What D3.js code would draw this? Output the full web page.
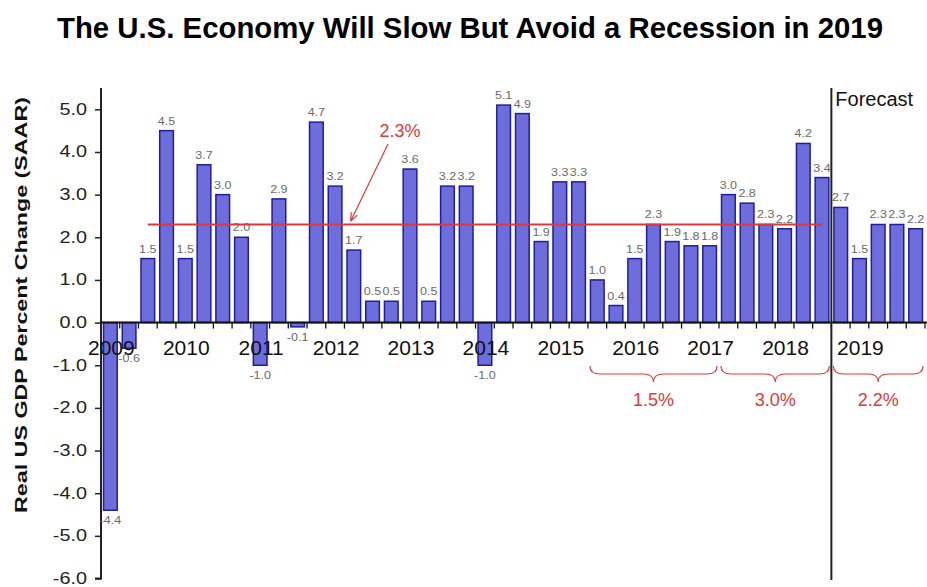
<!DOCTYPE html>
<html>
<head>
<meta charset="utf-8">
<script src="https://cdn.jsdelivr.net/npm/d3@7/dist/d3.min.js"></script>
<style>
  html, body { margin: 0; padding: 0; background: #fff; }
  svg { display: block; font-family: Arial, "Liberation Sans", sans-serif; }
</style>
</head>
<body>
<svg id="chart" width="927" height="587"></svg>
<script>
// Quarterly real GDP growth, SAAR (%), 2009 Q1 through 2019 Q4
const years = ["2009","2010","2011","2012","2013","2014","2015","2016","2017","2018","2019"];
const quarters = ["Q1","Q2","Q3","Q4"];
const gdpGrowth = [
  -4.4, -0.6, 1.5, 4.5,
   1.5,  3.7, 3.0, 2.0,
  -1.0,  2.9, -0.1, 4.7,
   3.2,  1.7, 0.5, 0.5,
   3.6,  0.5, 3.2, 3.2,
  -1.0,  5.1, 4.9, 1.9,
   3.3,  3.3, 1.0, 0.4,
   1.5,  2.3, 1.9, 1.8,
   1.8,  3.0, 2.8, 2.3,
   2.2,  4.2, 3.4, 2.7,
   1.5,  2.3, 2.3, 2.2
];
const yTicks = [-6, -5, -4, -3, -2, -1, 0, 1, 2, 3, 4, 5];
const averageValue = 2.3;
const averageSpan = [2, 38];          // quarters covered by the average line
const forecastStart = 39;             // first forecast quarter index
const periodAverages = [
  { from: 26, to: 33, label: "1.5%" },
  { from: 33, to: 39, label: "3.0%" },
  { from: 39, to: 44, label: "2.2%" }
];

const labels = [];
years.forEach(y => quarters.forEach(q => labels.push(y + " " + q)));
const data = gdpGrowth.map((v, i) => ({ key: labels[i], value: v, i }));
const fmt = v => v.toFixed(1);

// widen text glyphs horizontally by a factor
function widen(sel, factor) {
  sel.each(function () {
    const len = this.getComputedTextLength();
    d3.select(this).attr("textLength", len * factor).attr("lengthAdjust", "spacingAndGlyphs");
  });
}

const svg = d3.select("#chart");
const left = 101, right = 925;

const x = d3.scaleBand().domain(labels).range([left, right]).paddingInner(0.27).paddingOuter(0.135);
const step = x.step();
const edge = i => left + i * step;   // boundary before quarter i
const y = d3.scaleLinear().domain([-6, 5.5]).range([578.5, 88]);

// Title
svg.append("text")
  .attr("x", 470).attr("y", 38)
  .attr("text-anchor", "middle")
  .attr("font-size", 29).attr("font-weight", "bold")
  .attr("textLength", 826).attr("lengthAdjust", "spacingAndGlyphs")
  .attr("fill", "#000")
  .text("The U.S. Economy Will Slow But Avoid a Recession in 2019");

// Y axis
const yAxis = d3.axisLeft(y).tickValues(yTicks).tickFormat(fmt).tickSize(6).tickPadding(8);
const gy = svg.append("g").attr("transform", `translate(${left},0)`).call(yAxis);
gy.select(".domain").attr("stroke", "#222").attr("stroke-width", 2).attr("d", `M-6,${y(-6)}H0V88`);
gy.selectAll(".tick line").attr("stroke", "#222").attr("stroke-width", 1.5);
gy.selectAll(".tick text").attr("font-size", 16.5).attr("fill", "#222").attr("dy", "0.3em")
  .attr("font-family", "Arial, 'Liberation Sans', sans-serif")
  .call(widen, 1.2);

// Y axis title
svg.append("text")
  .attr("transform", `translate(27,305) rotate(-90)`)
  .attr("text-anchor", "middle")
  .attr("font-size", 17).attr("font-weight", "bold").attr("fill", "#111")
  .attr("textLength", 416).attr("lengthAdjust", "spacingAndGlyphs")
  .text("Real US GDP Percent Change (SAAR)");

// Bars
svg.append("g").selectAll("rect").data(data).join("rect")
  .attr("x", d => x(d.key))
  .attr("width", x.bandwidth())
  .attr("y", d => y(Math.max(0, d.value)))
  .attr("height", d => Math.abs(y(d.value) - y(0)))
  .attr("fill", "#6d6ddb")
  .attr("stroke", "#1e1e9e")
  .attr("stroke-width", 1.5);

// X axis along zero with quarter boundary ticks
const gx = svg.append("g");
gx.append("line").attr("x1", left).attr("x2", 927).attr("y1", y(0)).attr("y2", y(0))
  .attr("stroke", "#111").attr("stroke-width", 2);
gx.selectAll("line.qt").data(d3.range(1, labels.length + 1)).join("line")
  .attr("class", "qt")
  .attr("x1", i => edge(i)).attr("x2", i => edge(i))
  .attr("y1", y(0)).attr("y2", y(0) + 6)
  .attr("stroke", "#111").attr("stroke-width", 1.3);

// Year labels centred under each first quarter
svg.append("g").selectAll("text").data(years).join("text")
  .attr("x", (yr, k) => x(labels[k * 4]) + x.bandwidth() / 2 + 1)
  .attr("y", 355)
  .attr("text-anchor", "middle")
  .attr("font-size", 20).attr("fill", "#111")
  .text(d => d)
  .call(widen, 1.05);

// Value labels
svg.append("g").selectAll("text").data(data).join("text")
  .attr("x", d => x(d.key) + x.bandwidth() / 2)
  .attr("y", d => d.value >= 0 ? y(d.value) - 6 : y(d.value) + 14)
  .attr("text-anchor", "middle")
  .attr("font-size", 10).attr("fill", "#6a6a6a")
  .text(d => fmt(d.value))
  .call(widen, 1.25);

// Average line
svg.append("line")
  .attr("x1", x(labels[averageSpan[0]]) + x.bandwidth() / 2)
  .attr("x2", x(labels[averageSpan[1]]) + x.bandwidth() / 2)
  .attr("y1", y(averageValue)).attr("y2", y(averageValue))
  .attr("stroke", "#e0383a").attr("stroke-width", 2);

// Average annotation with arrow
const defs = svg.append("defs");
defs.append("marker").attr("id", "arrowHead")
  .attr("viewBox", "0 0 10 10").attr("refX", 9).attr("refY", 5)
  .attr("markerWidth", 7).attr("markerHeight", 7).attr("orient", "auto")
  .append("path").attr("d", "M0,1 L10,5 L0,9").attr("fill", "none")
  .attr("stroke", "#e0383a").attr("stroke-width", 1.5);
svg.append("line")
  .attr("x1", 388).attr("y1", 144).attr("x2", 351).attr("y2", y(averageValue) - 4)
  .attr("stroke", "#e0383a").attr("stroke-width", 1.2)
  .attr("marker-end", "url(#arrowHead)");
svg.append("text")
  .attr("x", 400).attr("y", 137).attr("text-anchor", "middle")
  .attr("font-size", 18).attr("fill", "#e0383a")
  .text(fmt(averageValue) + "%");

// Forecast divider
svg.append("line")
  .attr("x1", edge(forecastStart)).attr("x2", edge(forecastStart))
  .attr("y1", 88).attr("y2", 580)
  .attr("stroke", "#222").attr("stroke-width", 2);
svg.append("text")
  .attr("x", edge(forecastStart) + 4).attr("y", 106)
  .attr("font-size", 20).attr("fill", "#111")
  .text("Forecast");

// Period average braces
const braceTop = 366, braceDepth = 16;
function brace(x0, x1) {
  const xm = (x0 + x1) / 2, r = 5, yb = braceTop + braceDepth / 2;
  return `M${x0},${braceTop} Q${x0},${yb} ${x0 + r * 2},${yb} L${xm - r * 2},${yb} ` +
         `Q${xm},${yb} ${xm},${braceTop + braceDepth} Q${xm},${yb} ${xm + r * 2},${yb} ` +
         `L${x1 - r * 2},${yb} Q${x1},${yb} ${x1},${braceTop}`;
}
const gb = svg.append("g");
periodAverages.forEach(p => {
  const x0 = edge(p.from) + 2, x1 = edge(p.to) - 2;
  gb.append("path").attr("d", brace(x0, x1)).attr("fill", "none")
    .attr("stroke", "#e0383a").attr("stroke-width", 1.2);
  gb.append("text").attr("x", (x0 + x1) / 2).attr("y", 406)
    .attr("text-anchor", "middle").attr("font-size", 18).attr("fill", "#e0383a")
    .text(p.label);
});
</script>
</body>
</html>
